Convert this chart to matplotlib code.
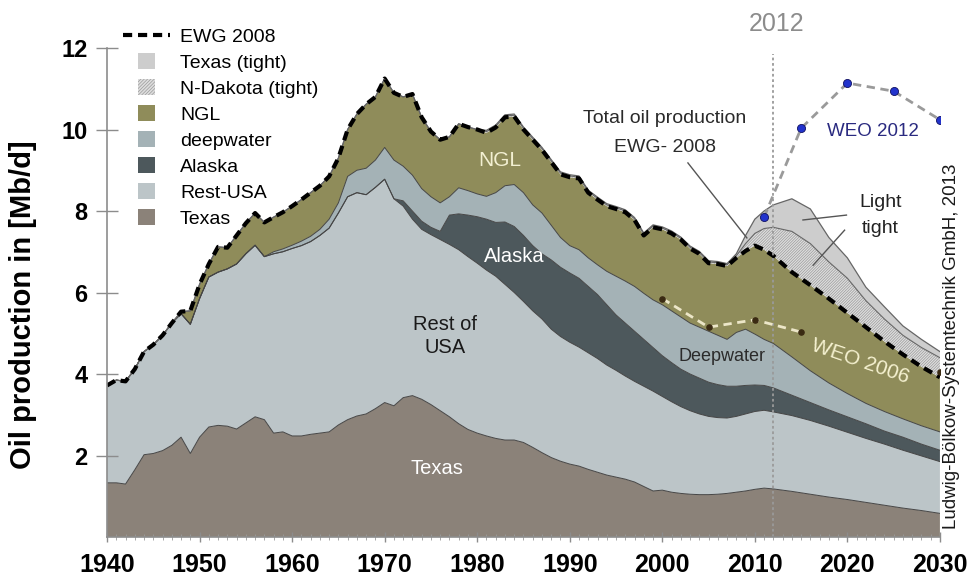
import numpy as np
import matplotlib.pyplot as plt
import matplotlib.patches as mpatches
from matplotlib.lines import Line2D
from matplotlib.legend_handler import HandlerPatch

plt.rcParams['font.family'] = ['Liberation Sans', 'DejaVu Sans']
plt.rcParams['hatch.linewidth'] = 0.5

# US oil production by source, Mb/d (history to 2012, EWG scenario after)
years = list(range(1940, 2013)) + list(range(2014, 2031, 2))

texas = [1.33, 1.33, 1.30, 1.65, 2.02, 2.05, 2.12, 2.25, 2.45, 2.05,
         2.45, 2.70, 2.74, 2.72, 2.65, 2.80, 2.95, 2.88, 2.55, 2.58,
         2.48, 2.48, 2.52, 2.55, 2.58, 2.75, 2.88, 2.97, 3.02, 3.15,
         3.30, 3.22, 3.42, 3.47, 3.38, 3.25, 3.10, 2.95, 2.78, 2.64,
         2.55, 2.48, 2.42, 2.38, 2.38, 2.32, 2.20, 2.07, 1.95, 1.86,
         1.79, 1.74, 1.66, 1.59, 1.52, 1.47, 1.42, 1.35, 1.24, 1.13,
         1.15, 1.10, 1.07, 1.05, 1.04, 1.04, 1.05, 1.07, 1.10, 1.13,
         1.17, 1.20, 1.18,
         1.12, 1.05, 0.98, 0.92, 0.85, 0.78, 0.71, 0.65, 0.58]

rest_usa = [2.39, 2.52, 2.52, 2.47, 2.53, 2.67, 2.83, 3.00, 3.03, 3.17,
            3.40, 3.68, 3.76, 3.86, 4.05, 4.15, 4.21, 4.00, 4.40, 4.42,
            4.60, 4.67, 4.73, 4.85, 5.00, 5.20, 5.47, 5.48, 5.38, 5.43,
            5.48, 5.08, 4.70, 4.33, 4.17, 4.17, 4.20, 4.23, 4.27, 4.24,
            4.17, 4.07, 3.98, 3.82, 3.62, 3.46, 3.35, 3.28, 3.15, 3.06,
            2.99, 2.92, 2.86, 2.79, 2.70, 2.62, 2.53, 2.47, 2.46, 2.45,
            2.30, 2.22, 2.13, 2.05, 1.98, 1.92, 1.88, 1.85, 1.86, 1.89,
            1.91, 1.91, 1.89,
            1.86, 1.81, 1.74, 1.65, 1.57, 1.50, 1.42, 1.34, 1.27]

alaska = [0.0] * 32 + [
    0.13, 0.20, 0.20, 0.18, 0.20, 0.72, 0.88, 1.02,
    1.14, 1.25, 1.32, 1.53, 1.62, 1.62, 1.60, 1.60, 1.70, 1.70,
    1.70, 1.69, 1.63, 1.57, 1.48, 1.36, 1.30, 1.23, 1.15, 1.07,
    1.00, 0.96, 0.92, 0.90, 0.88, 0.84, 0.81, 0.78, 0.74, 0.70,
    0.65, 0.61, 0.59,
    0.50, 0.44, 0.40, 0.38, 0.36, 0.32, 0.32, 0.29, 0.28]

deepwater = [0.0] * 18 + [
    0.05, 0.07,
    0.08, 0.11, 0.13, 0.15, 0.22, 0.25, 0.50, 0.55, 0.65, 0.67,
    0.78, 0.95, 0.85, 0.88, 0.80, 0.75, 0.70, 0.45, 0.64, 0.60,
    0.56, 0.56, 0.73, 0.89, 1.03, 1.05, 1.00, 1.00, 0.85, 0.73,
    0.67, 0.70, 0.70, 0.73, 0.82, 0.95, 1.03, 1.10, 1.13, 1.17,
    1.25, 1.27, 1.28, 1.25, 1.25, 1.25, 1.21, 1.15, 1.32, 1.38,
    1.25, 1.13, 1.09,
    0.94, 0.78, 0.66, 0.57, 0.50, 0.48, 0.45, 0.45, 0.45]

ngl = [0.0] * 8 + [
    0.05, 0.33,
    0.35, 0.32, 0.62, 0.52, 0.70, 0.75, 0.79, 0.84, 0.85, 0.90,
    0.96, 1.02, 1.07, 1.07, 1.05, 1.10, 1.15, 1.38, 1.57, 1.55,
    1.69, 1.65, 1.70, 1.99, 1.75, 1.60, 1.55, 1.47, 1.57, 1.56,
    1.58, 1.56, 1.60, 1.68, 1.67, 1.55, 1.60, 1.55, 1.55, 1.55,
    1.68, 1.75, 1.60, 1.60, 1.60, 1.65, 1.69, 1.63, 1.42, 1.78,
    1.85, 1.90, 1.90, 1.83, 1.80, 1.67, 1.75, 1.80, 1.83, 1.92,
    2.17, 2.20, 2.15,
    2.08, 2.10, 2.07, 1.98, 1.87, 1.72, 1.58, 1.45, 1.34]

nd_tight = [0.0] * 41 + [0.03] * 27 + [
    0.05, 0.18, 0.30, 0.52, 0.70,
    1.00, 1.02, 0.90, 0.85, 0.65, 0.55, 0.47, 0.47, 0.48]

tx_tight = [0.0] * 41 + [0.03] * 27 + [
    0.05, 0.20, 0.35, 0.43, 0.55,
    0.80, 0.85, 0.60, 0.50, 0.33, 0.30, 0.23, 0.20, 0.15]

# IEA outlooks
weo2006_years = [2000, 2005, 2010, 2015, 2030]
weo2006 = [5.85, 5.15, 5.33, 5.03, 4.05]
weo2012_years = [2011, 2015, 2020, 2025, 2030]
weo2012 = [7.85, 10.03, 11.14, 10.94, 10.24]

layer_names = ["Texas", "Rest-USA", "Alaska", "deepwater", "NGL",
               "N-Dakota (tight)", "Texas (tight)"]
layer_colors = ["#8b8279", "#bcc5c8", "#4d585c", "#a4b2b6", "#8f8c5a",
                "#dedede", "#cdcdcd"]

fig = plt.figure(figsize=(9.73, 5.77), dpi=100)
ax = fig.add_axes([0.110, 0.0693, 0.856, 0.8475])

layers = [texas, rest_usa, alaska, deepwater, ngl, nd_tight, tx_tight]
polys = ax.stackplot(years, *layers, colors=layer_colors, linewidth=0)
polys[5].set_hatch('////////////')
polys[5].set_edgecolor('#9a9a9a')

tops = np.cumsum(np.array(layers), axis=0)
for top in tops[:4]:
    ax.plot(years, top, color='#454545', lw=0.7)
ax.plot(years, tops[5], color='#666666', lw=0.8)
ax.plot(years, tops[6], color='#666666', lw=0.9)

# EWG 2008 total = sum of conventional layers
ax.plot(years, tops[4], color='black', lw=3, linestyle=(0, (2.2, 1.4)))

# 2012 marker line
ax.plot([2012, 2012], [0, 11.85], color='#9a9a9a', lw=1.3, linestyle=(0, (1.5, 1.5)))
ax.text(2012.3, 12.6, "2012", color='#8c8c8c', fontsize=18, ha='center', va='center')

# WEO lines
ax.plot(weo2012_years, weo2012, color='#9a9a9a', lw=2, dashes=(3, 2), zorder=4)
ax.scatter(weo2012_years, weo2012, s=34, color='#2233cc', edgecolor='#101060', lw=0.6, zorder=5)
ax.plot(weo2006_years[:4], weo2006[:4], color='#ece6c8', lw=2, dashes=(3, 2), zorder=4)
ax.scatter(weo2006_years, weo2006, s=14, color='#3a2a12', zorder=5)

# labels inside the chart
ax.text(1982.4, 9.25, "NGL", color='#f3f0d2', fontsize=15, ha='center', va='center')
ax.text(1984.0, 6.88, "Alaska", color='white', fontsize=14.5, ha='center', va='center')
ax.text(1976.5, 4.94, "Rest of\nUSA", color='#1a1a1a', fontsize=14.5, ha='center', va='center',
        linespacing=1.25)
ax.text(1975.7, 1.69, "Texas", color='white', fontsize=14.5, ha='center', va='center')
ax.text(2006.5, 4.42, "Deepwater", color='#2b2b2b', fontsize=13, ha='center', va='center')
ax.text(2021.4, 4.32, "WEO 2006", color='#f4f0cf', fontsize=15, ha='center', va='center',
        rotation=-19)
ax.text(2022.75, 9.94, "WEO 2012", color='#2a2a80', fontsize=13.5, ha='center', va='center')

ax.text(2000.3, 10.28, "Total oil production", color='#2a2a2a', fontsize=14, ha='center', va='center')
ax.text(2000.3, 9.57, "EWG- 2008", color='#2a2a2a', fontsize=14, ha='center', va='center')
ax.plot([2002.77, 2009.14], [9.18, 7.34], color='#555555', lw=1)

ax.text(2023.6, 8.22, "Light", color='#222222', fontsize=14, ha='center', va='center')
ax.text(2023.5, 7.58, "tight", color='#222222', fontsize=14, ha='center', va='center')
ax.plot([2019.9, 2015.2], [7.90, 7.78], color='#555555', lw=1)
ax.plot([2019.7, 2016.3], [7.53, 6.67], color='#555555', lw=1)

ax.text(2031.3, 4.69, "Ludwig-Bölkow-Systemtechnik GmbH, 2013", color='#1a1a1a', fontsize=13.5,
        rotation=90, ha='center', va='center')

fig.text(0.024, 0.472, "Oil production in [Mb/d]", rotation=90, fontsize=21, fontweight='bold',
         ha='center', va='center')

ax.set_xlim(1940, 2030)
ax.set_ylim(0, 12)
ax.set_xticks(range(1940, 2031, 10))
ax.set_xticks(range(1940, 2031), minor=True)
ax.set_yticks(range(2, 13, 2))
for side in ['top', 'right']:
    ax.spines[side].set_visible(False)
for side in ['left', 'bottom']:
    ax.spines[side].set_color('#8c8c8c')
    ax.spines[side].set_linewidth(1.2)
ax.tick_params(axis='y', direction='inout', length=16, width=1.0, color='#8c8c8c', pad=6, labelsize=17)
ax.tick_params(axis='x', which='major', direction='inout', length=7, width=1.0, color='#8c8c8c',
               pad=8, labelsize=18)
ax.tick_params(axis='x', which='minor', direction='inout', length=5, width=0.6, color='#9a9a9a')
for lbl in ax.get_xticklabels() + ax.get_yticklabels():
    lbl.set_fontweight('bold')


def square_patch(legend, orig_handle, xdescent, ydescent, width, height, fontsize):
    side = 0.83 * fontsize
    return mpatches.Rectangle((width / 2 - side / 2 - xdescent, height / 2 - side / 2 - ydescent),
                              side, side)


handles = [Line2D([], [], color='black', lw=3, linestyle=(0, (2.2, 1.4)))]
labels = ["EWG 2008"]
for i in [6, 5, 4, 3, 2, 1, 0]:
    hatch = '//////////' if i == 5 else None
    handles.append(mpatches.Patch(facecolor=layer_colors[i], edgecolor='#9a9a9a', lw=0, hatch=hatch))
    labels.append(layer_names[i])

fig.legend(handles, labels, loc='upper left', bbox_to_anchor=(0.1264, 0.951), frameon=False,
           fontsize=14, handlelength=2.42, handletextpad=0.51, labelspacing=0.43, borderpad=0,
           borderaxespad=0, handler_map={mpatches.Patch: HandlerPatch(patch_func=square_patch)})

fig.savefig("out.png", dpi=100)
